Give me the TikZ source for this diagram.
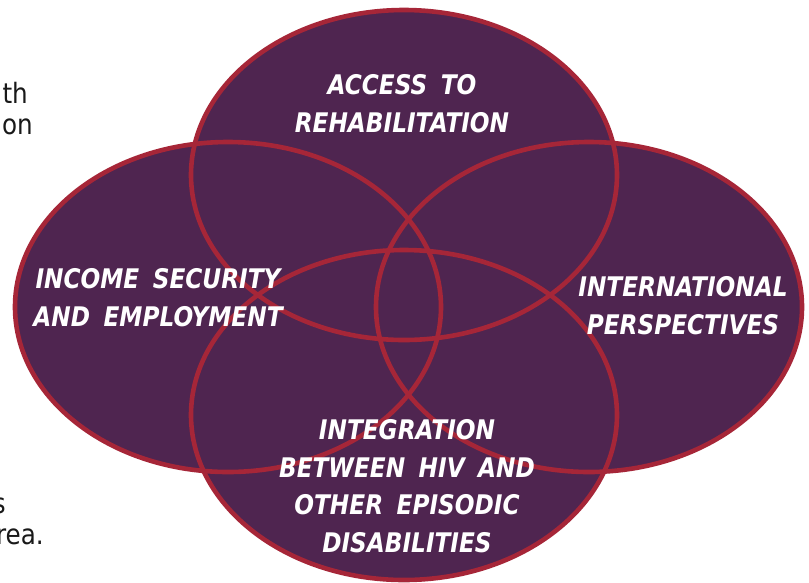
\documentclass[tikz,border=0pt]{standalone}
\usepackage{fontspec}
\setmainfont{DejaVu Sans}[FakeStretch=0.88]
\newfontfamily\labfont{DejaVu Sans}[FakeStretch=0.86]
\definecolor{fillc}{RGB}{79,37,80}
\definecolor{edgec}{RGB}{166,38,56}
\tikzset{
  venn/.style={x radius=213pt, y radius=165pt},
  lab/.style={text=white, align=center, inner sep=0pt,
    font={\labfont\bfseries\itshape\fontsize{27}{37.5}\selectfont\spaceskip=0.5em\relax}},
  bgtext/.style={text=black!90, inner sep=0pt,
    font={\fontsize{28}{31}\selectfont}}
}
\begin{document}
\begin{tikzpicture}[x=1pt,y=-1pt]
\useasboundingbox (0,0) rectangle (809,582);
% background text fragments
\node[bgtext, anchor=base east] (t1) at (28,103) {th};
\node[bgtext, anchor=base east] (t2) at (33,134) {on};
\node[bgtext, anchor=base east] (t3) at (6,513) {s};
\node[bgtext, anchor=base east] (t4) at (44,544) {rea.};
% ellipse centres
\coordinate (ctop) at (404,175);
\coordinate (cleft) at (228,307);
\coordinate (cright) at (589,307);
\coordinate (cbot) at (404,415);
% fills
\foreach \c in {ctop,cleft,cright,cbot}
  \fill[fillc] (\c) ellipse [venn];
% outlines
\foreach \c in {ctop,cleft,cright,cbot}
  \draw[edgec, line width=4.6pt] (\c) ellipse [venn];
% labels
\node[lab] (access) at (402,103.5) {ACCESS TO\\REHABILITATION};
\node[lab] (income) at (158,297.5) {INCOME SECURITY\\AND EMPLOYMENT};
\node[lab] (intl) at (683,305.5) {INTERNATIONAL\\PERSPECTIVES};
\node[lab] (integ) at (407,486) {INTEGRATION\\BETWEEN HIV AND\\OTHER EPISODIC\\DISABILITIES};
\end{tikzpicture}
\end{document}
